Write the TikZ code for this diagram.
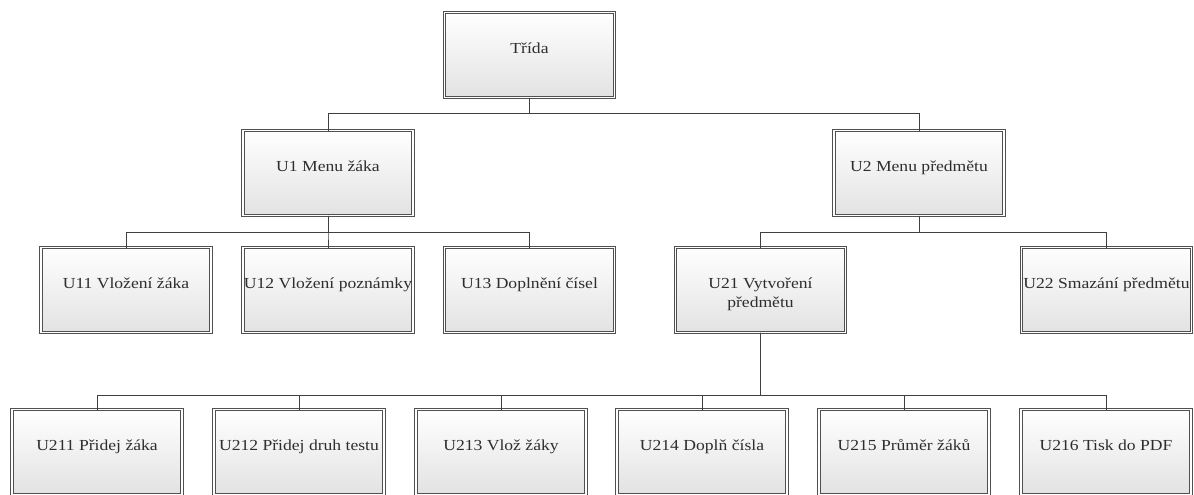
\documentclass[tikz,border=0pt]{standalone}
\usepackage{fontspec}
\setmainfont[FakeStretch=1.15]{Liberation Serif}
\usetikzlibrary{shadows}
\definecolor{edgecol}{HTML}{505050}
\definecolor{wirecol}{HTML}{404040}
\definecolor{txtcol}{HTML}{2E2E2E}
\definecolor{shadecol}{HTML}{E2E2E2}
\newcommand{\boxtxt}[1]{\parbox[c][85pt][t]{170pt}{\centering\fontsize{15.3}{19}\selectfont\rule{0pt}{41pt}#1}}
\tikzset{
  ucbox/.style={rectangle, inner sep=0pt, outer sep=0pt, minimum width=170pt, minimum height=85pt,
    top color=white, bottom color=shadecol, draw=edgecol, line width=0.95pt,
    double=white, double distance=1.3pt, text=txtcol,
    drop shadow={shadow xshift=1.2pt, shadow yshift=-1.2pt, opacity=0.15, fill=black}},
  wire/.style={draw=wirecol, line width=0.9pt}
}
\begin{document}
\begin{tikzpicture}[x=1pt, y=-1pt]
\useasboundingbox[fill=white] (0,0) rectangle (1194,495);
% level 0
\node[ucbox] (T) at (529.5,55) {\boxtxt{Třída}};
% level 1
\node[ucbox] (U1) at (328,173) {\boxtxt{U1 Menu žáka}};
\node[ucbox] (U2) at (919,173) {\boxtxt{U2 Menu předmětu}};
% level 2
\node[ucbox] (U11) at (126,290) {\boxtxt{U11 Vložení žáka}};
\node[ucbox] (U12) at (328,290) {\boxtxt{U12 Vložení poznámky}};
\node[ucbox] (U13) at (529.5,290) {\boxtxt{U13 Doplnění čísel}};
\node[ucbox] (U21) at (760.5,290) {\boxtxt{U21 Vytvoření\\předmětu}};
\node[ucbox] (U22) at (1106.5,290) {\boxtxt{U22 Smazání předmětu}};
% level 3
\node[ucbox] (U211) at (97,452) {\boxtxt{U211 Přidej žáka}};
\node[ucbox] (U212) at (299,452) {\boxtxt{U212 Přidej druh testu}};
\node[ucbox] (U213) at (501,452) {\boxtxt{U213 Vlož žáky}};
\node[ucbox] (U214) at (702,452) {\boxtxt{U214 Doplň čísla}};
\node[ucbox] (U215) at (904,452) {\boxtxt{U215 Průměr žáků}};
\node[ucbox] (U216) at (1106,452) {\boxtxt{U216 Tisk do PDF}};
% connectors
\draw[wire] (T.south) -- ++(0,15.5) -| (U1.north);
\draw[wire] (T.south) -- ++(0,15.5) -| (U2.north);
\foreach \c in {U11,U12,U13}
  \draw[wire] (U1.south) -- ++(0,16.5) -| (\c.north);
\foreach \c in {U21,U22}
  \draw[wire] (U2.south) -- ++(0,16.5) -| (\c.north);
\foreach \c in {U211,U212,U213,U214,U215,U216}
  \draw[wire] (U21.south) -- ++(0,62.5) -| (\c.north);
\end{tikzpicture}
\end{document}
